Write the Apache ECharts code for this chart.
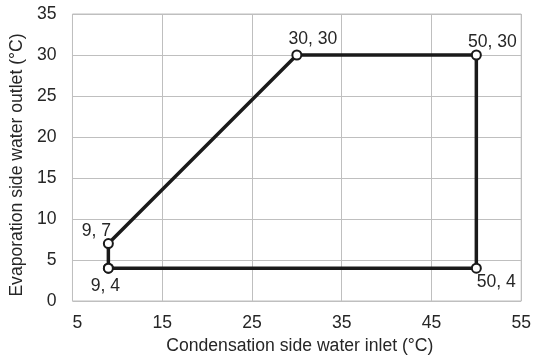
<!DOCTYPE html>
<html>
<head>
<meta charset="utf-8">
<script src="https://cdn.jsdelivr.net/npm/echarts@6/dist/echarts.min.js"></script>
<style>
  html, body { margin: 0; padding: 0; background: #fff; }
  #chart { width: 534px; height: 363px; }
</style>
</head>
<body>
<div id="chart"></div>
<script>
// 运行范围边界点（按连线顺序）
var inletTemps = [9, 9, 30, 50, 50, 9];
var outletTemps = [4, 7, 30, 30, 4, 4];
var xTicks = [5, 15, 25, 35, 45, 55];
var yTicks = [0, 5, 10, 15, 20, 25, 30, 35];
var xName = 'Condensation side water inlet (°C)';
var yName = 'Evaporation side water outlet (°C)';

// 标签相对点的偏移
var labelOffsets = [[-3, 18], [-12, -12], [16, -16], [16, -13], [20, 14], null];

var chart = echarts.init(document.getElementById('chart'));
var fontFamily = 'Liberation Sans, Arial, sans-serif';
var fontSize = 17.6;
var textColor = '#262626';

var points = inletTemps.map(function (x, i) {
  var off = labelOffsets[i];
  return {
    value: [x, outletTemps[i]],
    label: off ? {
      show: true,
      position: 'inside',
      offset: off,
      formatter: x + ', ' + outletTemps[i]
    } : { show: false }
  };
});

chart.setOption({
  animation: false,
  grid: {
    left: 69,
    right: 12.5,
    top: 14,
    bottom: 62,
    show: true,
    borderColor: '#bfbfbf',
    borderWidth: 1
  },
  xAxis: {
    type: 'value',
    min: xTicks[0],
    max: xTicks[xTicks.length - 1],
    interval: 10,
    name: xName,
    nameLocation: 'middle',
    nameGap: 33,
    nameTextStyle: { color: textColor, fontSize: fontSize, fontFamily: fontFamily, padding: [0, 0, 0, 6] },
    axisLine: { show: false },
    axisTick: { show: false },
    axisLabel: {
      color: textColor,
      fontSize: fontSize,
      fontFamily: fontFamily,
      margin: 13,
      // 首个刻度标签略向右
      formatter: function (v) { return v === xTicks[0] ? '  ' + v : String(v); }
    },
    splitLine: { show: true, lineStyle: { color: '#bfbfbf', width: 1 } }
  },
  yAxis: {
    type: 'value',
    min: yTicks[0],
    max: yTicks[yTicks.length - 1],
    interval: 5,
    name: yName,
    nameLocation: 'middle',
    nameGap: 44,
    nameTextStyle: { color: textColor, fontSize: fontSize, fontFamily: fontFamily, padding: [0, 15, 0, 0] },
    axisLine: { show: false },
    axisTick: { show: false },
    axisLabel: { color: textColor, fontSize: fontSize, fontFamily: fontFamily, margin: 16 },
    splitLine: { show: true, lineStyle: { color: '#bfbfbf', width: 1 } }
  },
  series: [{
    type: 'line',
    data: points,
    symbol: 'circle',
    symbolSize: 9,
    lineStyle: { color: '#1a1a1a', width: 3.5 },
    itemStyle: { color: '#ffffff', borderColor: '#1a1a1a', borderWidth: 2 },
    label: { color: textColor, fontSize: fontSize, fontFamily: fontFamily },
    emphasis: { disabled: true }
  }]
});
</script>
</body>
</html>
